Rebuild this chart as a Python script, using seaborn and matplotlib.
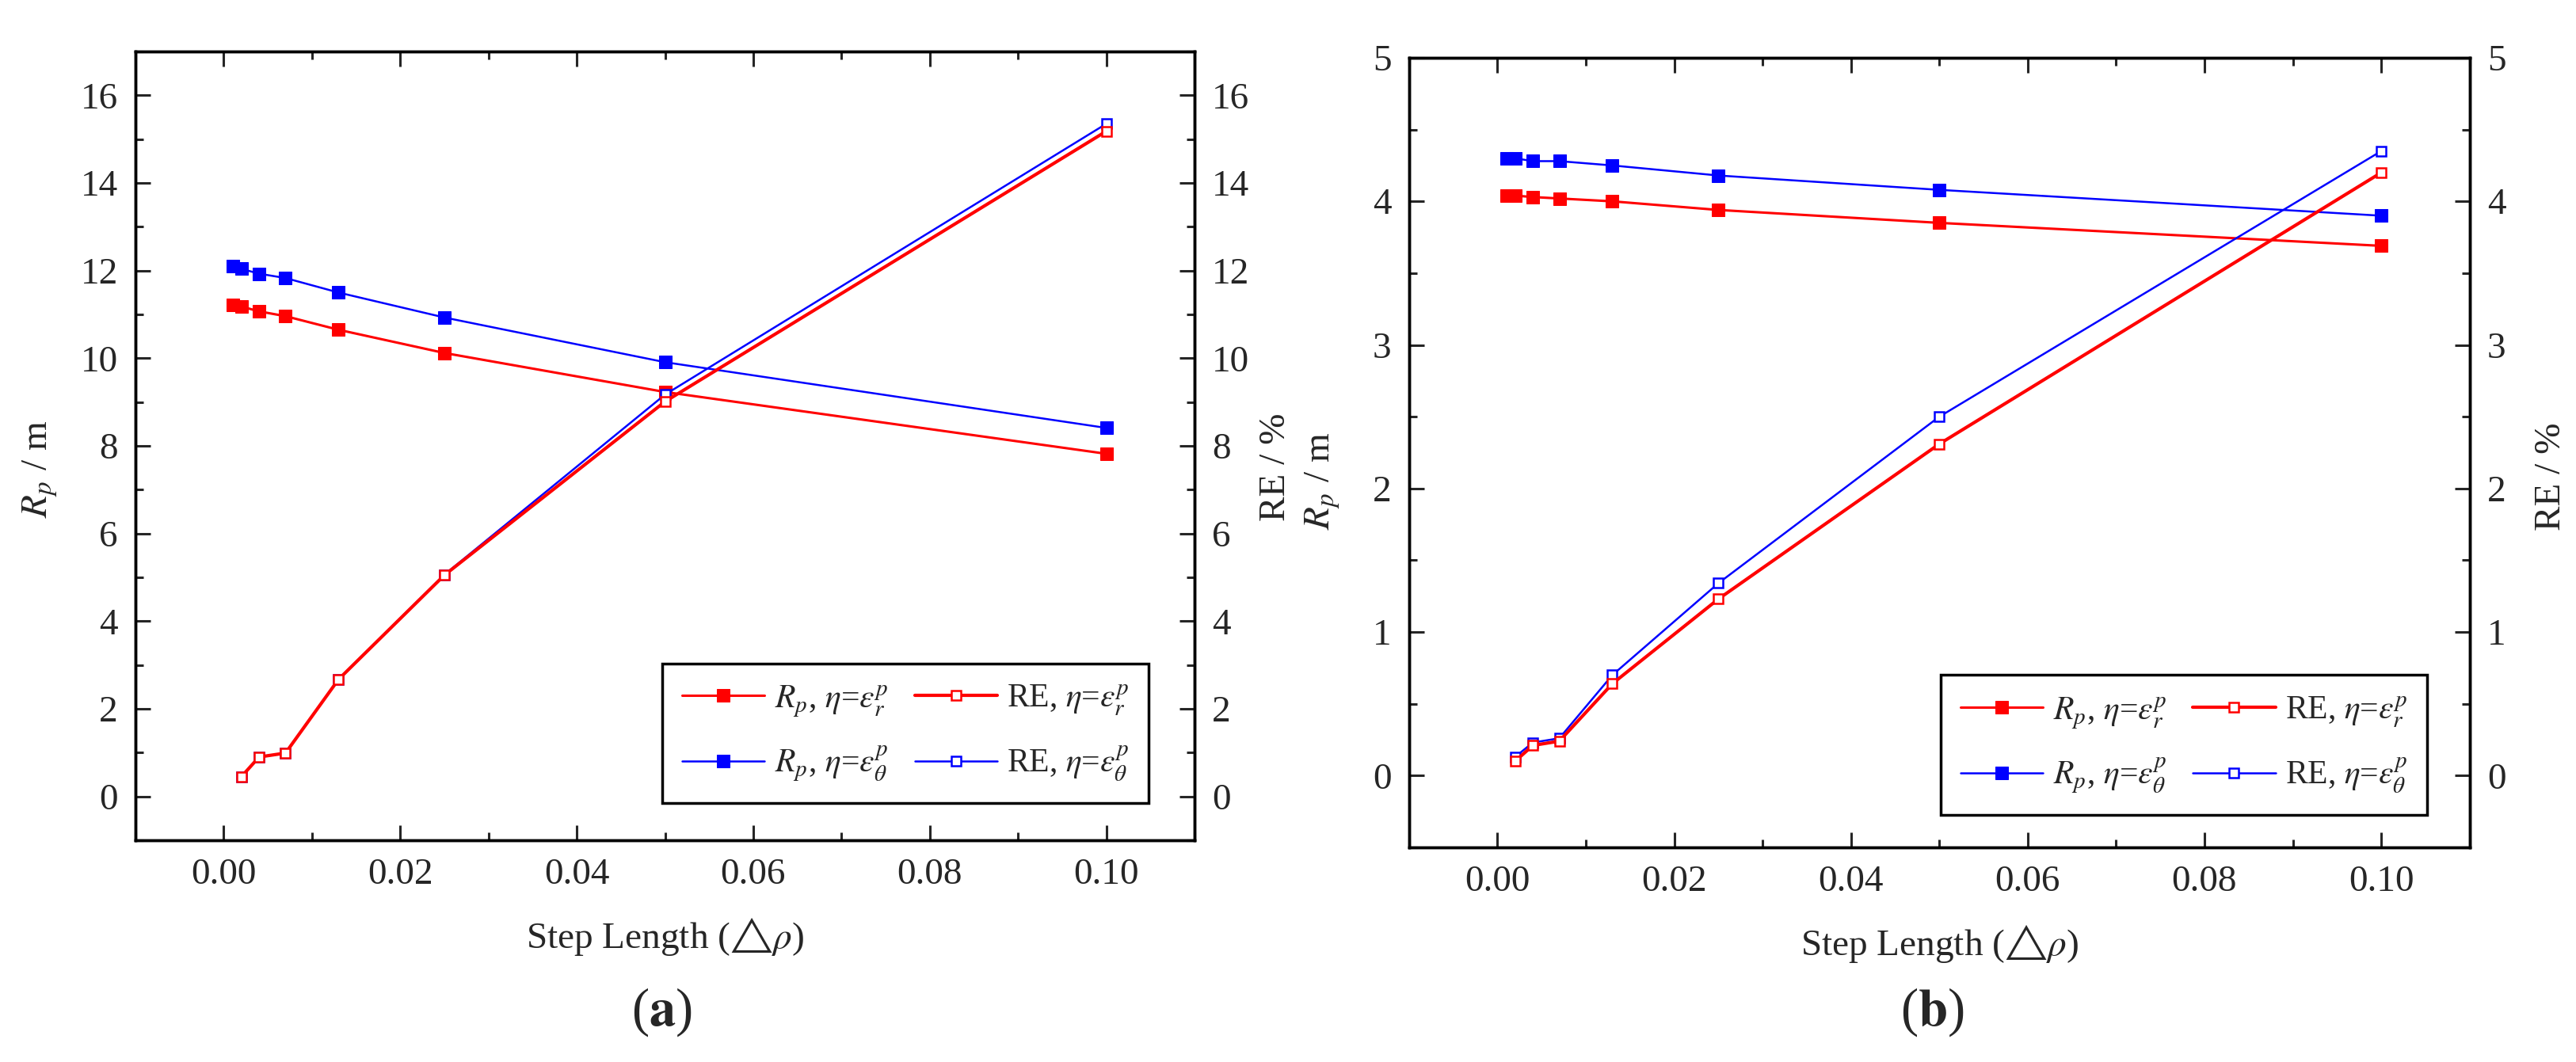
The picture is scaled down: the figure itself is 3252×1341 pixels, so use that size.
import numpy as np
import pandas as pd
import matplotlib
matplotlib.use("Agg")
import matplotlib.pyplot as plt
from matplotlib.ticker import MultipleLocator
import seaborn as sns

# dados
step = [0.001, 0.002, 0.004, 0.007, 0.013, 0.025, 0.05, 0.1]
step_re = [0.002, 0.004, 0.007, 0.013, 0.025, 0.05, 0.1]

# (a)
rp_r_a = [11.22, 11.18, 11.07, 10.96, 10.65, 10.12, 9.23, 7.82]
rp_t_a = [12.10, 12.04, 11.93, 11.83, 11.50, 10.93, 9.91, 8.41]
re_r_a = [0.45, 0.90, 0.99, 2.67, 5.05, 9.01, 15.18]
re_t_a = [0.45, 0.90, 0.99, 2.67, 5.06, 9.17, 15.35]

# (b)
rp_r_b = [4.04, 4.04, 4.03, 4.02, 4.00, 3.94, 3.85, 3.69]
rp_t_b = [4.30, 4.30, 4.28, 4.28, 4.25, 4.18, 4.08, 3.90]
re_r_b = [0.10, 0.21, 0.24, 0.64, 1.23, 2.31, 4.20]
re_t_b = [0.13, 0.23, 0.26, 0.70, 1.34, 2.50, 4.35]

sns.set_style("ticks")
plt.rcParams['font.family'] = ['Liberation Serif', 'DejaVu Sans']
plt.rcParams['mathtext.fontset'] = 'stix'

lab_rp_r = r"$R_p$, $\eta$=$\varepsilon^p_r$"
lab_rp_t = r"$R_p$, $\eta$=$\varepsilon^p_\theta$"
lab_re_r = r"RE, $\eta$=$\varepsilon^p_r$"
lab_re_t = r"RE, $\eta$=$\varepsilon^p_\theta$"

fs = 34


def estilo(ax, ylim, major, minor, right=False):
    ax.set_xlim(-0.01, 0.11)
    ax.set_ylim(*ylim)
    ax.xaxis.set_major_locator(MultipleLocator(0.02))
    ax.xaxis.set_minor_locator(MultipleLocator(0.01))
    ax.yaxis.set_major_locator(MultipleLocator(major))
    ax.yaxis.set_minor_locator(MultipleLocator(minor))
    ax.tick_params(which='both', direction='in', width=2.2, labelsize=fs,
                   labelfontfamily='Liberation Serif',
                   top=True, bottom=True, left=not right, right=right)
    ax.tick_params(which='major', length=14, pad=16)
    ax.tick_params(which='minor', length=7)
    for s in ax.spines.values():
        s.set_linewidth(2.5)
        s.set_color('black')
        s.set_visible(True)


def painel(ax, rp_r, rp_t, re_r, re_t, ylim, major, minor, ylx, yly, yrx, yry, leg_pos):
    df_rp = pd.DataFrame({'x': step, 'r': rp_r, 't': rp_t})
    df_re = pd.DataFrame({'x': step_re, 'r': re_r, 't': re_t})

    sns.lineplot(data=df_rp, x='x', y='r', ax=ax, color='red', lw=2.2,
                 marker='s', markersize=11, mec='red', mfc='red', label=lab_rp_r)
    sns.lineplot(data=df_rp, x='x', y='t', ax=ax, color='blue', lw=1.8,
                 marker='s', markersize=11, mec='blue', mfc='blue', label=lab_rp_t)
    ax2 = ax.twinx()
    sns.lineplot(data=df_re, x='x', y='t', ax=ax2, color='blue', lw=1.8,
                 marker='s', markersize=9, mec='blue', mfc='white', mew=1.8,
                 label=lab_re_t)
    sns.lineplot(data=df_re, x='x', y='r', ax=ax2, color='red', lw=3.0,
                 marker='s', markersize=9, mec='red', mfc='white', mew=1.8,
                 label=lab_re_r)

    estilo(ax, ylim, major, minor)
    estilo(ax2, ylim, major, minor, right=True)

    ax.set_xlabel("Step Length ($\u25b3\\rho$)", fontsize=fs)
    ax.xaxis.set_label_coords(0.5, -0.095)
    ax.set_ylabel(r"$R_p$ / m", fontsize=fs)
    ax.yaxis.set_label_coords(ylx, yly)
    ax2.set_ylabel("RE / %", fontsize=fs)
    ax2.yaxis.set_label_coords(yrx, yry)

    h1, l1 = ax.get_legend_handles_labels()
    h2, l2 = ax2.get_legend_handles_labels()
    ax.get_legend().remove()
    ax2.get_legend().remove()
    handles = [h1[0], h1[1], h2[1], h2[0]]
    labels = [l1[0], l1[1], l2[1], l2[0]]
    leg = ax2.legend(handles, labels, ncol=2, loc='lower right',
                     bbox_to_anchor=leg_pos, borderaxespad=0, fontsize=30,
                     frameon=True, fancybox=False, framealpha=1,
                     edgecolor='black', handlelength=2.5, handletextpad=0.3,
                     columnspacing=0.8, labelspacing=0.8, borderpad=0.6)
    leg.get_frame().set_linewidth(2.5)
    return ax2


fig = plt.figure(figsize=(32.52, 13.41), dpi=100)
ax_a = fig.add_axes([0.0526, 0.2088, 0.4111, 0.7427])
ax_b = fig.add_axes([0.547, 0.2021, 0.4117, 0.7435])

painel(ax_a, rp_r_a, rp_t_a, re_r_a, re_t_a, (-1, 17), 2, 1,
       -0.072, 0.47, 1.061, 0.473, (0.957, 0.047))
painel(ax_b, rp_r_b, rp_t_b, re_r_b, re_t_b, (-0.5, 5), 1, 0.5,
       -0.063, 0.464, 1.061, 0.47, (0.960, 0.041))

fig.text(0.257, 0.047, r"($\mathbf{a}$)", fontsize=48, ha='center', va='center')
fig.text(0.750, 0.047, r"($\mathbf{b}$)", fontsize=48, ha='center', va='center')

fig.savefig("out.png", dpi=100)
